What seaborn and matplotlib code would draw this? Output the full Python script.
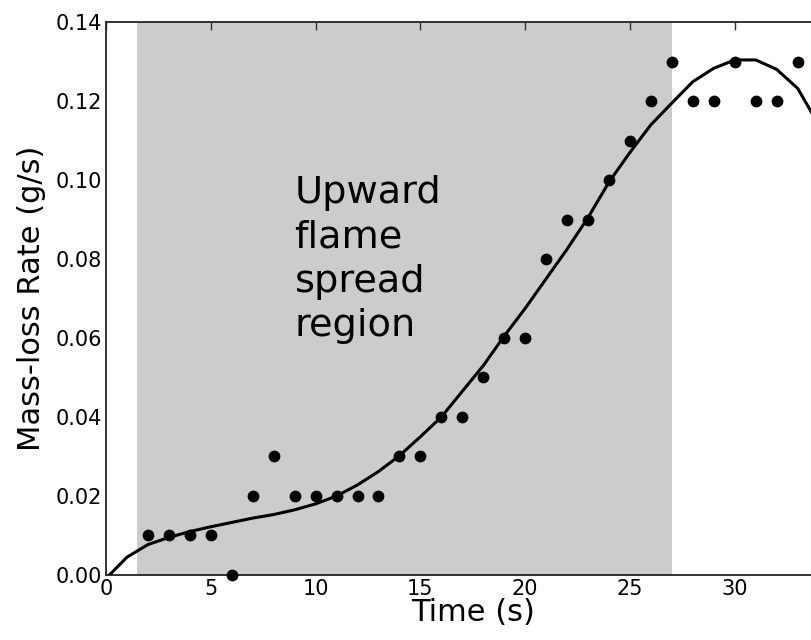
import numpy as np
import pandas as pd
import matplotlib
matplotlib.use("Agg")
import matplotlib.pyplot as plt
import seaborn as sns

# Measured data points
time_s = [2, 3, 4, 5, 6, 7, 8, 9, 10, 11, 12, 13, 14, 15, 16, 17, 18, 19, 20,
          21, 22, 23, 24, 25, 26, 27, 28, 29, 30, 31, 32, 33]
mass_loss = [0.01, 0.01, 0.01, 0.01, 0.00, 0.02, 0.03, 0.02, 0.02, 0.02, 0.02,
             0.02, 0.03, 0.03, 0.04, 0.04, 0.05, 0.06, 0.06, 0.08, 0.09, 0.09,
             0.10, 0.11, 0.12, 0.13, 0.12, 0.12, 0.13, 0.12, 0.12, 0.13]

# Fitted curve
fit_t = list(range(0, 36))
fit_y = [-0.0009, 0.0045, 0.0077, 0.0095, 0.0110, 0.0122, 0.0133, 0.0144,
         0.0153, 0.0165, 0.0180, 0.0200, 0.0228, 0.0262, 0.0302, 0.0350,
         0.0400, 0.0465, 0.0530, 0.0605, 0.0675, 0.0750, 0.0825, 0.0905,
         0.0995, 0.1070, 0.1140, 0.1195, 0.1249, 0.1283, 0.1304, 0.1304,
         0.1280, 0.1232, 0.1140, 0.1030]

region_start, region_end = 1.5, 27
region_label = "Upward\nflame\nspread\nregion"
x_ticks = [0, 5, 10, 15, 20, 25, 30]
y_ticks = [0.00, 0.02, 0.04, 0.06, 0.08, 0.10, 0.12, 0.14]

sns.set_style("white")
plt.rcParams['font.family'] = ['DejaVu Sans']
plt.rcParams['text.color'] = 'black'
plt.rcParams['axes.labelcolor'] = 'black'

fig = plt.figure(figsize=(8.12, 6.4), dpi=100)
ax = fig.add_axes([0.1305, 0.1016, 1.034 - 0.1305, 0.9656 - 0.1016])

ax.axvspan(region_start, region_end, color='#cccccc', lw=0, zorder=0)

pts = pd.DataFrame({"t": time_s, "m": mass_loss})
fit = pd.DataFrame({"t": fit_t, "m": fit_y})

sns.lineplot(data=fit, x="t", y="m", ax=ax, color='black', lw=2.2,
             zorder=3, estimator=None, sort=False)
sns.scatterplot(data=pts, x="t", y="m", ax=ax, color='black', s=72,
                edgecolor='black', linewidth=0, zorder=4, clip_on=False)

ax.text(9, 0.1012, region_label, fontsize=27.5, va='top', ha='left',
        linespacing=1.3, color='black')

ax.set_xlim(0, 35)
ax.set_ylim(0, 0.14)
ax.set_xticks(x_ticks)
ax.set_yticks(y_ticks)
ax.set_yticklabels([f"{v:.2f}" for v in y_ticks])
ax.set_xlabel("Time (s)", fontsize=22, labelpad=-1, color='black')
ax.set_ylabel("Mass-loss Rate (g/s)", fontsize=22, labelpad=7, color='black')
ax.tick_params(direction='in', length=6, width=1, top=True, right=True,
               labelsize=15, color='#333333', labelcolor='black', pad=3)
for s in ax.spines.values():
    s.set_color('#222222')
    s.set_linewidth(1.3)

fig.savefig("out.png", dpi=100)
